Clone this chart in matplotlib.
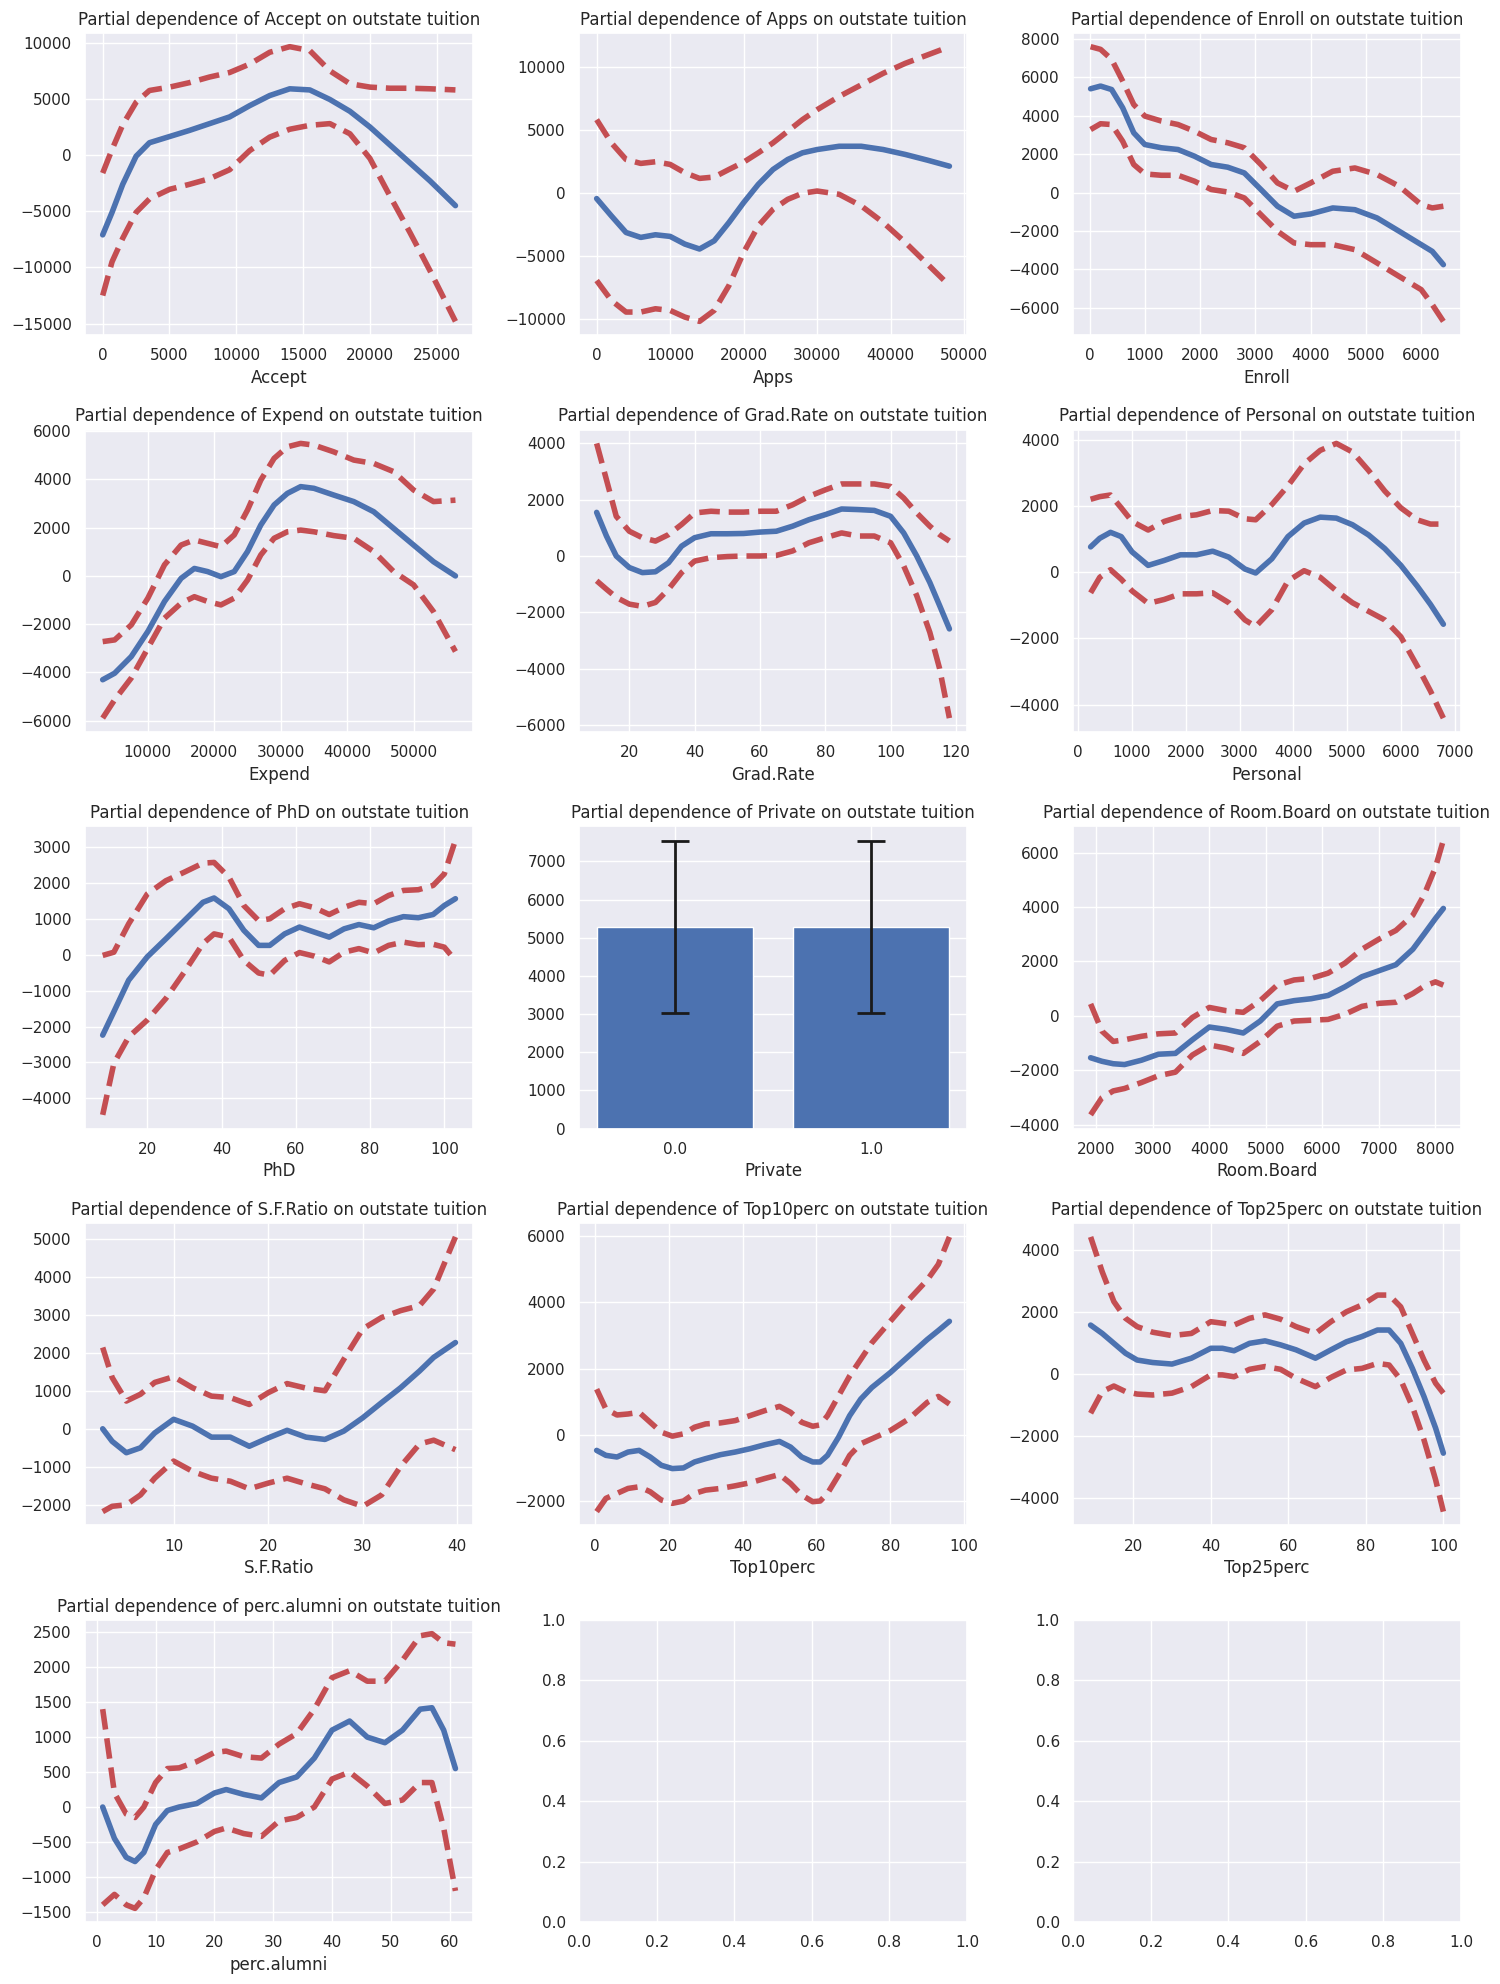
import matplotlib
matplotlib.use('Agg')
import matplotlib.pyplot as plt
import seaborn as sns

sns.set()

# ==================================================
#   Data

accept_x = [0, 700, 1500, 2500, 3500, 5000, 6500, 8000, 9500, 11000, 12500, 14000, 15500, 17000, 18500, 20000, 21500, 23000, 24500, 26400]
accept_mean = [-7100, -5100, -2600, -100, 1100, 1650, 2200, 2800, 3400, 4400, 5300, 5900, 5800, 4950, 3900, 2500, 900, -700, -2300, -4500]
accept_hi = [-1600, 500, 2700, 4700, 5750, 6050, 6450, 6950, 7350, 8100, 9150, 9650, 9300, 7500, 6350, 6050, 5950, 5950, 5900, 5800]
accept_lo = [-12500, -9500, -7400, -5100, -3900, -3050, -2600, -2100, -1300, 400, 1600, 2300, 2650, 2800, 1900, -300, -3650, -6900, -10300, -14800]

apps_x = [0, 2000, 4000, 6000, 8000, 10000, 12000, 14000, 16000, 18000, 20000, 22000, 24000, 26000, 28000, 30000, 33000, 36000, 39000, 42000, 45000, 48000]
apps_mean = [-470, -1840, -3160, -3550, -3340, -3470, -4080, -4470, -3820, -2370, -790, 660, 1840, 2630, 3160, 3420, 3680, 3680, 3420, 3030, 2580, 2100]
apps_hi = [5790, 3950, 2630, 2320, 2450, 2240, 1580, 1130, 1240, 1840, 2420, 3160, 3950, 4870, 5790, 6580, 7630, 8550, 9470, 10260, 10920, 11580]
apps_lo = [-6970, -8550, -9470, -9470, -9210, -9340, -9870, -10210, -9340, -7370, -4740, -2630, -1320, -530, -50, 130, -130, -1050, -2370, -3950, -5660, -7370]

enroll_x = [20, 200, 400, 600, 800, 1000, 1300, 1600, 1900, 2200, 2500, 2800, 3100, 3400, 3700, 4000, 4400, 4800, 5200, 5600, 6000, 6200, 6400]
enroll_mean = [5400, 5540, 5360, 4410, 3110, 2500, 2330, 2240, 1890, 1460, 1320, 1020, 160, -710, -1230, -1110, -800, -890, -1320, -2010, -2710, -3060, -3750]
enroll_hi = [7590, 7450, 6930, 5800, 4580, 3980, 3720, 3540, 3190, 2760, 2590, 2330, 1460, 500, 70, 500, 1110, 1280, 940, 330, -630, -800, -710]
enroll_lo = [3280, 3580, 3540, 2670, 1460, 970, 900, 900, 590, 160, 30, -280, -1150, -2010, -2620, -2710, -2710, -2970, -3660, -4360, -5050, -5830, -6700]

expend_x = [3200, 5000, 7500, 10000, 12500, 15000, 17000, 19000, 21000, 23000, 25000, 27000, 29000, 31000, 33000, 35000, 38000, 41000, 44000, 47000, 50000, 53000, 56300]
expend_mean = [-4300, -4030, -3340, -2300, -1060, -100, 310, 180, -30, 180, 1010, 2110, 2940, 3420, 3700, 3630, 3350, 3080, 2660, 1970, 1280, 590, 0]
expend_hi = [-2720, -2650, -2030, -920, 460, 1280, 1490, 1350, 1210, 1700, 2730, 3970, 4870, 5350, 5490, 5420, 5140, 4800, 4660, 4320, 3560, 3080, 3140]
expend_lo = [-5890, -5130, -4230, -2990, -1750, -1130, -860, -1060, -1200, -920, -170, 870, 1560, 1830, 1900, 1830, 1670, 1560, 1010, 180, -370, -1480, -3130]

grad_x = [10, 13, 16, 20, 24, 28, 32, 36, 40, 45, 50, 55, 60, 65, 70, 75, 80, 85, 90, 95, 100, 104, 108, 112, 115, 118]
grad_mean = [1550, 710, 0, -410, -590, -560, -240, 350, 650, 790, 790, 800, 850, 880, 1060, 1290, 1470, 1670, 1650, 1620, 1410, 820, 0, -940, -1760, -2590]
grad_hi = [4000, 2710, 1410, 880, 650, 530, 760, 1120, 1530, 1590, 1560, 1560, 1590, 1590, 1820, 2120, 2350, 2560, 2560, 2560, 2470, 2060, 1530, 1060, 760, 530]
grad_lo = [-880, -1180, -1470, -1710, -1790, -1650, -1180, -590, -180, -60, -20, 0, 0, 20, 180, 470, 650, 820, 710, 710, 470, -350, -1410, -2710, -4000, -5760]

personal_x = [230, 400, 600, 800, 1000, 1300, 1600, 1900, 2200, 2500, 2800, 3100, 3300, 3600, 3900, 4200, 4500, 4800, 5100, 5400, 5700, 6000, 6300, 6550, 6790]
personal_mean = [770, 1030, 1210, 1080, 620, 210, 360, 530, 530, 640, 460, 100, -20, 410, 1080, 1490, 1670, 1640, 1440, 1130, 720, 210, -410, -970, -1570]
personal_hi = [2210, 2290, 2340, 1950, 1540, 1280, 1540, 1690, 1740, 1870, 1850, 1620, 1590, 2050, 2620, 3280, 3690, 3900, 3640, 3080, 2460, 1950, 1590, 1460, 1460]
personal_lo = [-620, -150, 80, -210, -560, -940, -820, -650, -650, -620, -920, -1440, -1640, -1130, -260, 50, -150, -560, -920, -1180, -1440, -1950, -2820, -3590, -4410]

phd_x = [8, 11, 15, 20, 25, 30, 35, 38, 42, 46, 50, 53, 57, 61, 65, 69, 73, 77, 81, 85, 89, 93, 97, 100, 103]
phd_mean = [-2240, -1590, -710, -60, 440, 950, 1460, 1580, 1280, 680, 260, 260, 580, 770, 630, 490, 720, 840, 750, 940, 1060, 1030, 1120, 1370, 1560]
phd_hi = [-20, 70, 860, 1690, 2060, 2300, 2550, 2570, 2160, 1370, 950, 1000, 1280, 1420, 1310, 1120, 1320, 1460, 1420, 1650, 1790, 1810, 1930, 2250, 3190]
phd_lo = [-4460, -3030, -2290, -1820, -1220, -480, 310, 580, 490, -160, -510, -570, -160, 60, -40, -200, 70, 170, 50, 260, 350, 280, 290, 210, -160]

private_cats = ['0.0', '1.0']
private_mean = [5290, 5290]
private_err = [2250, 2250]

room_x = [1900, 2100, 2300, 2500, 2800, 3100, 3400, 3700, 4000, 4300, 4600, 4900, 5200, 5500, 5800, 6100, 6400, 6700, 7000, 7300, 7600, 7800, 8000, 8140]
room_mean = [-1540, -1670, -1760, -1790, -1630, -1410, -1380, -880, -410, -500, -630, -190, 440, 560, 630, 750, 1070, 1440, 1660, 1880, 2450, 3010, 3580, 3950]
room_hi = [440, -560, -940, -880, -750, -660, -630, -60, 310, 190, 130, 560, 1130, 1320, 1380, 1570, 1940, 2450, 2820, 3140, 3700, 4450, 5460, 6460]
room_lo = [-3640, -3010, -2760, -2670, -2450, -2200, -2070, -1440, -1070, -1190, -1380, -940, -380, -190, -160, -130, 60, 350, 460, 500, 820, 1090, 1250, 1130]

sf_x = [2.5, 3.5, 5, 6.5, 8, 10, 12, 14, 16, 18, 20, 22, 24, 26, 28, 30, 32, 34, 36, 37.5, 39.8]
sf_mean = [0, -330, -630, -500, -110, 250, 70, -220, -220, -460, -240, -40, -220, -280, -60, 290, 690, 1080, 1520, 1880, 2270]
sf_hi = [2140, 1350, 730, 910, 1220, 1370, 1080, 860, 820, 640, 950, 1190, 1070, 1000, 1830, 2630, 2930, 3110, 3240, 3680, 5050]
sf_lo = [-2180, -2040, -2000, -1740, -1300, -850, -1120, -1300, -1380, -1580, -1430, -1300, -1450, -1580, -1870, -2040, -1740, -990, -400, -300, -550]

top10_x = [0.5, 3, 6, 9, 12, 15, 18, 21, 24, 27, 30, 34, 38, 42, 46, 50, 53, 56, 59, 61, 63, 66, 69, 72, 75, 80, 85, 90, 93, 96]
top10_mean = [-470, -620, -670, -520, -470, -670, -920, -1020, -1000, -820, -720, -600, -520, -420, -300, -200, -370, -670, -820, -820, -620, -70, 580, 1080, 1430, 1880, 2380, 2880, 3150, 3430]
top10_hi = [1380, 780, 600, 630, 680, 380, 80, -40, 30, 230, 330, 360, 430, 580, 730, 860, 680, 380, 260, 300, 580, 1180, 1780, 2280, 2780, 3430, 4080, 4680, 5150, 5980]
top10_lo = [-2320, -1920, -1770, -1620, -1570, -1720, -1970, -2070, -2000, -1770, -1670, -1620, -1540, -1450, -1320, -1200, -1470, -1820, -2020, -2000, -1770, -1220, -620, -270, -120, 130, 480, 980, 1160, 930]

top25_x = [9, 12, 15, 18, 21, 25, 30, 35, 40, 43, 46, 50, 54, 58, 62, 67, 71, 75, 79, 83, 86, 89, 92, 95, 98, 100]
top25_mean = [1580, 1310, 990, 670, 450, 370, 320, 510, 830, 830, 750, 990, 1070, 940, 780, 510, 780, 1040, 1210, 1420, 1420, 990, 180, -730, -1750, -2560]
top25_hi = [4430, 3300, 2340, 1800, 1530, 1350, 1240, 1310, 1690, 1640, 1580, 1800, 1910, 1770, 1530, 1310, 1690, 2010, 2230, 2550, 2550, 2170, 1310, 450, -300, -620]
top25_lo = [-1270, -570, -390, -570, -650, -680, -620, -410, -30, -30, -90, 150, 240, 150, -140, -410, -110, 130, 180, 340, 290, -190, -1050, -2130, -3420, -4450]

alumni_x = [1, 3, 5, 6.5, 8, 10, 12, 14, 17, 20, 22, 25, 28, 31, 34, 37, 40, 43, 46, 49, 52, 55, 57, 59, 61]
alumni_mean = [0, -450, -720, -780, -650, -250, -50, 0, 50, 200, 250, 180, 130, 350, 430, 700, 1100, 1230, 1000, 920, 1100, 1400, 1420, 1100, 550]
alumni_hi = [1400, 200, -100, -150, 0, 350, 550, 560, 650, 780, 800, 720, 700, 900, 1050, 1400, 1850, 1950, 1800, 1800, 2100, 2450, 2480, 2350, 2330]
alumni_lo = [-1400, -1250, -1400, -1450, -1300, -900, -650, -600, -500, -350, -300, -380, -420, -200, -150, 0, 400, 500, 300, 50, 100, 350, 350, -300, -1200]

# ==================================================
#   Plot

panels = [
    ('Accept', accept_x, accept_mean, accept_lo, accept_hi),
    ('Apps', apps_x, apps_mean, apps_lo, apps_hi),
    ('Enroll', enroll_x, enroll_mean, enroll_lo, enroll_hi),
    ('Expend', expend_x, expend_mean, expend_lo, expend_hi),
    ('Grad.Rate', grad_x, grad_mean, grad_lo, grad_hi),
    ('Personal', personal_x, personal_mean, personal_lo, personal_hi),
    ('PhD', phd_x, phd_mean, phd_lo, phd_hi),
    ('Private', None, None, None, None),
    ('Room.Board', room_x, room_mean, room_lo, room_hi),
    ('S.F.Ratio', sf_x, sf_mean, sf_lo, sf_hi),
    ('Top10perc', top10_x, top10_mean, top10_lo, top10_hi),
    ('Top25perc', top25_x, top25_mean, top25_lo, top25_hi),
    ('perc.alumni', alumni_x, alumni_mean, alumni_lo, alumni_hi),
]

fig, axs = plt.subplots(5, 3, figsize=(15, 19.84))
axs = axs.flatten()

for i, (name, x, mean, lo, hi) in enumerate(panels):
    ax = axs[i]
    if name == 'Private':
        ax.bar(private_cats, private_mean, yerr=private_err, color='b',
               capsize=10, error_kw={'elinewidth': 2, 'capthick': 2})
    else:
        ax.plot(x, mean, 'b-', linewidth=4)
        ax.plot(x, lo, 'r--', linewidth=4)
        ax.plot(x, hi, 'r--', linewidth=4)
    ax.set_xlabel(name)
    ax.set_title('Partial dependence of ' + name + ' on outstate tuition')

plt.subplots_adjust(left=0.0567, right=0.974, top=0.9834, bottom=0.0312,
                    wspace=0.273, hspace=0.313)
fig.savefig('out.png', dpi=100)
